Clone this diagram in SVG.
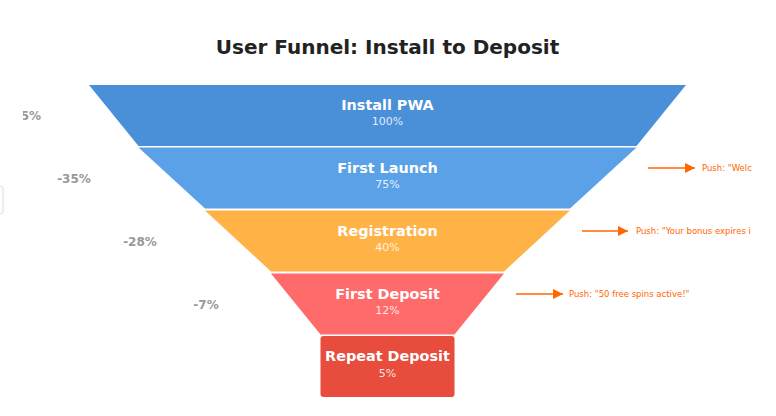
<svg xmlns="http://www.w3.org/2000/svg" width="776" height="416" viewBox="0 0 776 416">
<defs>
<marker id="arr" viewBox="0 0 10 10" refX="10" refY="5" markerWidth="10" markerHeight="10" markerUnits="userSpaceOnUse" orient="auto">
<path d="M0,0 L10,5 L0,10 z" fill="#ff6600"/>
</marker>
<clipPath id="rclip"><rect x="0" y="0" width="752" height="416"/></clipPath>
<clipPath id="lclip"><rect x="23" y="0" width="760" height="416"/></clipPath>
</defs>
<style>
text{font-family:"DejaVu Sans","Liberation Sans",sans-serif;}
.title{font-size:20px;font-weight:bold;fill:#222;text-anchor:middle;}
.name{font-size:14.4px;font-weight:bold;fill:#fff;text-anchor:middle;}
.pct{font-size:11px;fill:#fff;fill-opacity:0.85;text-anchor:middle;}
.drop{font-size:12px;font-weight:bold;fill:#999;text-anchor:middle;}
.push{font-size:8.5px;fill:#ff6600;}
.conn{stroke:#ff6600;stroke-width:1.5;fill:none;}
</style>
<rect width="776" height="416" fill="#fff"/>
<text class="title" x="387.5" y="54">User Funnel: Install to Deposit</text>
<rect x="-10" y="186" width="13" height="28" rx="3" fill="#fff" stroke="#ddd"/>
<g id="stage-install">
<polygon points="89,85 686,85 636.5,146 138.5,146" fill="#4a90d9"/>
<text class="name" x="387.5" y="110">Install PWA</text>
<text class="pct" x="387.5" y="125">100%</text>
</g>
<g id="stage-launch">
<polygon points="138.5,147.5 636.5,147.5 570,208.5 205,208.5" fill="#5ba1e8"/>
<text class="name" x="387.5" y="172.5">First Launch</text>
<text class="pct" x="387.5" y="188">75%</text>
</g>
<g id="stage-registration">
<polygon points="205,210.5 570,210.5 504,271.5 271,271.5" fill="#ffb347"/>
<text class="name" x="387.5" y="235.5">Registration</text>
<text class="pct" x="387.5" y="251">40%</text>
</g>
<g id="stage-deposit">
<polygon points="271,273.5 504,273.5 454.5,334.5 320.5,334.5" fill="#ff6b6b"/>
<text class="name" x="387.5" y="298.5">First Deposit</text>
<text class="pct" x="387.5" y="314">12%</text>
</g>
<g id="stage-repeat">
<rect x="320.5" y="336" width="134" height="61" rx="3" fill="#e74c3c"/>
<text class="name" x="387.5" y="361">Repeat Deposit</text>
<text class="pct" x="387.5" y="376.5">5%</text>
</g>
<g id="drops">
<text class="drop" x="41" y="120" style="text-anchor:end" clip-path="url(#lclip)">5%</text>
<text class="drop" x="74" y="183">-35%</text>
<text class="drop" x="140" y="246">-28%</text>
<text class="drop" x="206" y="309">-7%</text>
</g>
<g id="connectors">
<line class="conn" x1="648" y1="168" x2="695" y2="168" marker-end="url(#arr)"/>
<line class="conn" x1="582" y1="231" x2="628" y2="231" marker-end="url(#arr)"/>
<line class="conn" x1="516" y1="294" x2="563" y2="294" marker-end="url(#arr)"/>
</g>
<g id="push-labels" clip-path="url(#rclip)">
<text class="push" x="702" y="171">Push: "Welc</text>
<text class="push" x="636" y="234">Push: "Your bonus expires i</text>
<text class="push" x="569" y="297">Push: "50 free spins active!"</text>
</g>
</svg>
